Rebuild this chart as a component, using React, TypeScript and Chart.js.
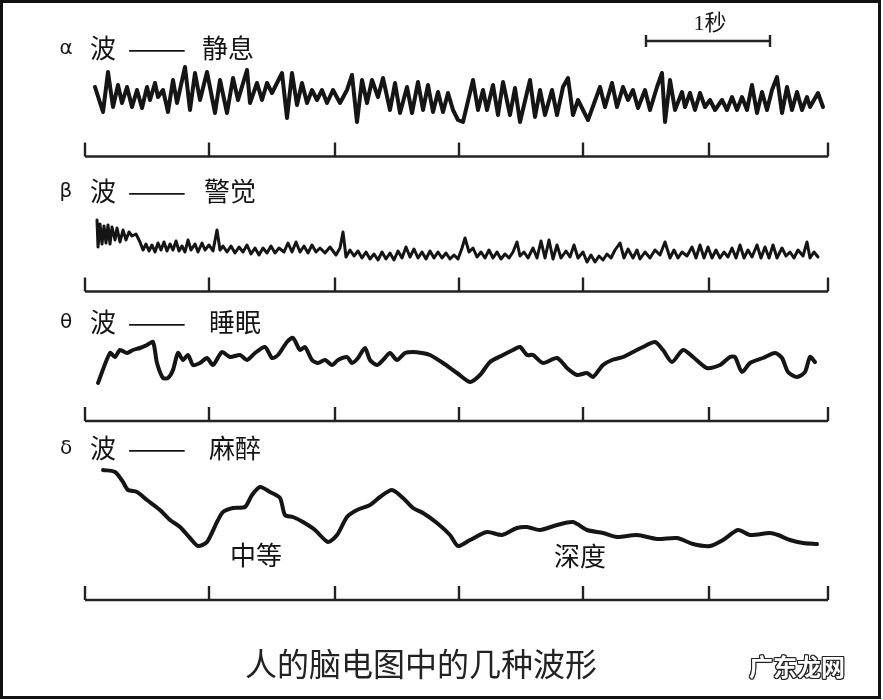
import React, { useEffect, useRef } from "react";
import { Chart, registerables } from "chart.js";

Chart.register(...registerables);

// ---------- data (x = sample index at 124 samples / second, y = amplitude) ----------
const SAMPLES_PER_SECOND = 124;
const tickSamples = [0, 124, 250, 374, 498, 624, 743];
const scaleBarSamples = [561, 685];

const alphaWave: number[][] = [
  [10, 8], [18, -17], [23, 23], [28, -12], [33, 10], [37, -8], [42, 8], [47, -12], [52, 5], [57, -13],
  [62, 8], [65, -5], [70, 12], [73, -2], [78, 5], [83, -17], [88, 15], [92, -8], [100, 28], [105, -15],
  [110, 22], [115, -5], [122, 23], [130, -18], [135, 15], [142, -18], [148, 17], [153, -5], [162, 25], [165, -8],
  [172, 12], [177, -5], [182, 12], [187, 2], [197, 22], [202, -23], [207, 22], [212, -10], [217, 12], [222, -8],
  [227, 5], [232, -5], [237, 5], [242, -8], [248, 5], [255, -8], [262, 5], [267, 20], [272, -27], [277, 15],
  [282, -8], [287, 15], [293, -2], [298, 17], [305, -15], [310, 12], [315, -18], [322, 8], [327, -18], [333, 13],
  [338, -15], [343, 10], [348, -17], [353, 3], [358, -17], [363, 2], [368, -15], [373, -25], [378, -27], [388, 15],
  [393, -15], [398, 5], [402, -15], [408, 10], [413, -20], [418, 13], [425, -20], [430, 7], [435, -27], [445, 15],
  [450, -22], [455, 5], [460, -20], [467, 5], [472, -20], [478, 8], [483, 17], [488, -20], [493, -5], [503, -25],
  [515, 8], [520, -12], [527, 12], [532, -12], [538, 8], [543, -5], [548, 5], [553, -13], [560, 5], [565, -15],
  [572, 8], [577, 22], [580, -27], [585, 15], [590, -15], [597, 3], [600, -12], [605, 2], [610, -15], [615, 2],
  [620, -12], [625, -5], [630, -15], [637, -5], [642, -15], [647, -2], [652, -15], [657, -2], [662, -15], [667, 10],
  [672, -18], [677, 3], [682, -15], [687, 5], [692, 18], [697, -18], [702, 8], [707, -15], [712, 3], [717, -15],
  [722, -2], [725, -12], [733, 2], [738, -12],
];

const betaWave: number[][] = [
  [12, 30], [13, 3], [15, 26], [17, 6], [19, 24], [21, 7], [23, 25], [25, 6], [27, 23], [30, 10],
  [32, 22], [35, 8], [38, 20], [41, 10], [44, 18], [47, 14], [51, 16], [55, 8], [58, 0], [61, 6],
  [64, -1], [67, 5], [70, -2], [73, 7], [76, 0], [79, 8], [82, -1], [85, 6], [88, 0], [91, 9],
  [94, -1], [97, 4], [100, -2], [103, 10], [106, 0], [110, 6], [113, -2], [117, 7], [120, 0], [124, 5],
  [128, -1], [132, 20], [135, 0], [138, 4], [142, -2], [146, 4], [150, -3], [154, 3], [158, -2], [162, 5],
  [166, -4], [170, 2], [174, -5], [178, 2], [182, -3], [186, 4], [190, -3], [194, 2], [199, -2], [203, 7],
  [207, -2], [211, 8], [215, -2], [219, 4], [223, -3], [227, 5], [231, -2], [235, 2], [240, -3], [245, 3],
  [251, -5], [255, 2], [258, 18], [261, -7], [265, 0], [269, -6], [273, -1], [277, -8], [281, -2], [285, -9],
  [289, -4], [293, -10], [297, -2], [301, -9], [305, -3], [309, -10], [313, -1], [317, -8], [321, 3], [325, -7],
  [329, 1], [333, -8], [337, -2], [341, -9], [345, -1], [349, -8], [353, -2], [357, -8], [361, -3], [365, -9],
  [369, -5], [373, -9], [377, 2], [380, 12], [384, -2], [388, 2], [392, -7], [396, -2], [400, -8], [404, 0],
  [408, -8], [412, -2], [416, -9], [420, -4], [424, -8], [428, -2], [432, 8], [435, -6], [439, -2], [443, -8],
  [448, 2], [452, -8], [456, 9], [460, -8], [464, 10], [468, -9], [472, 5], [476, -8], [481, -1], [485, -7],
  [489, 5], [493, -8], [498, -2], [502, -12], [506, -5], [510, -12], [514, -6], [518, -10], [522, -4], [526, -8],
  [530, 0], [535, 7], [539, -8], [543, 1], [548, -8], [552, 0], [555, -9], [560, -2], [565, -8], [570, 0],
  [575, -5], [580, 8], [585, -8], [589, 0], [593, -8], [597, -2], [602, -6], [607, 3], [611, -8], [615, 5],
  [619, -8], [623, 3], [627, -8], [631, 0], [635, -8], [639, -2], [643, -7], [647, 2], [651, -8], [655, 5],
  [659, -8], [663, 0], [667, -7], [672, 5], [676, -8], [680, 3], [684, -8], [688, 5], [692, -8], [697, 2],
  [701, -6], [705, -2], [709, -8], [713, 0], [718, -6], [722, 8], [725, -8], [729, -2], [733, -7],
];

const thetaWave: number[][] = [
  [13, -23], [25, 7], [30, 3], [35, 10], [42, 7], [48, 10], [55, 12], [62, 15], [68, 18], [72, -3],
  [78, -18], [83, -18], [88, -10], [93, 7], [98, 0], [103, 5], [108, -5], [115, -3], [122, 2], [128, -5],
  [137, 8], [145, 3], [155, 5], [162, 0], [170, 7], [180, 13], [187, 2], [193, 5], [202, 18], [208, 22],
  [215, 10], [220, 13], [227, 0], [233, -3], [240, 0], [247, -5], [253, 0], [262, 3], [267, -3], [273, 2],
  [280, 12], [285, 0], [292, -5], [298, 0], [305, 7], [312, 0], [320, 7], [328, 8], [337, 7], [345, 5],
  [358, -3], [372, -13], [385, -22], [395, -15], [405, -2], [418, 5], [428, 10], [435, 13], [442, 5], [448, 5],
  [458, -3], [472, 2], [482, -8], [492, -15], [502, -13], [508, -17], [518, -5], [527, 0], [538, 3], [548, 8],
  [558, 13], [570, 18], [578, 10], [587, -2], [598, 10], [608, 3], [622, -8], [635, -5], [645, 3], [650, 3],
  [657, -12], [665, -3], [678, 2], [690, 7], [697, 2], [703, -12], [712, -17], [720, -12], [725, 3], [730, -2],
];

const deltaWave: number[][] = [
  [18, 40], [30, 38], [38, 28], [43, 20], [52, 18], [62, 10], [75, 0], [85, -10], [95, -17], [105, -28],
  [113, -36], [122, -32], [132, -12], [138, -2], [148, 2], [160, 3], [167, 15], [175, 23], [185, 18], [195, 12],
  [200, -5], [208, -7], [218, -12], [230, -20], [243, -32], [252, -25], [262, -7], [272, 0], [285, 5], [295, 13],
  [307, 20], [318, 12], [328, 2], [338, -3], [352, -13], [365, -25], [373, -36], [385, -30], [402, -22], [417, -25],
  [432, -18], [442, -17], [455, -20], [472, -15], [488, -12], [502, -20], [518, -23], [532, -27], [552, -25], [572, -29],
  [592, -28], [608, -34], [625, -36], [638, -30], [653, -20], [665, -25], [685, -23], [693, -25], [705, -30], [718, -33],
  [732, -34],
];

const waveLabels = [
  { greek: "α", name: "静息" },
  { greek: "β", name: "警觉" },
  { greek: "θ", name: "睡眠" },
  { greek: "δ", name: "麻醉" },
];
const depthLabels = ["中等", "深度"];
const scaleBarLabel = "1秒";
const titleText = "人的脑电图中的几种波形";
const watermarkText = "广东龙网";

// ---------- layout / style ----------
const W = 883;
const H = 700;
const X_MIN = -85;
const X_MAX = 798;
const BASE = { alpha: 605, beta: 450, theta: 340, delta: 190 };
const AXIS_ROWS = [543.5, 408.5, 279, 100];
const TICK_H = 14;
const BAR_Y = 659;
const BAR_END = 6;
const INK = "#151515";

const CJK = "'Noto Sans CJK SC', 'Noto Sans', sans-serif";

function toPts(arr: number[][], base: number) {
  return arr.map(([s, a]) => ({ x: s, y: base + a }));
}

function Txt(props: { x: number; y: number; size: number; text: string; font?: string; style?: React.CSSProperties }) {
  return (
    <div
      style={{
        position: "absolute",
        left: props.x,
        top: props.y,
        transform: "translate(-50%, -50%)",
        fontSize: props.size,
        lineHeight: 1,
        whiteSpace: "nowrap",
        fontFamily: props.font || CJK,
        color: INK,
        ...props.style,
      }}
    >
      {props.text}
    </div>
  );
}

export default function App() {
  const ref = useRef<HTMLCanvasElement | null>(null);

  useEffect(() => {
    document.body.style.margin = "0";
    const canvas = ref.current;
    if (!canvas) return;

    const waveDs = (data: any[], width: number, tension: number) => ({
      data,
      borderColor: INK,
      borderWidth: width,
      pointRadius: 0,
      fill: false,
      tension,
      borderJoinStyle: "round" as const,
      borderCapStyle: "round" as const,
    });

    const lineDs = (data: any[], width: number) => ({
      data,
      borderColor: "#222",
      borderWidth: width,
      pointRadius: 0,
      fill: false,
      tension: 0,
      spanGaps: false,
      borderJoinStyle: "miter" as const,
      borderCapStyle: "butt" as const,
    });

    const datasets: any[] = [
      waveDs(toPts(alphaWave, BASE.alpha), 4, 0),
      waveDs(toPts(betaWave, BASE.beta), 3, 0),
      waveDs(toPts(thetaWave, BASE.theta), 4, 0.25),
      waveDs(toPts(deltaWave, BASE.delta), 4, 0.25),
    ];

    AXIS_ROWS.forEach((yRow) => {
      datasets.push(
        lineDs(
          [
            { x: tickSamples[0], y: yRow },
            { x: tickSamples[tickSamples.length - 1], y: yRow },
          ],
          2.6
        )
      );
      const ticks: any[] = [];
      tickSamples.forEach((t) => {
        ticks.push({ x: t, y: yRow }, { x: t, y: yRow + TICK_H }, { x: t, y: null });
      });
      datasets.push(lineDs(ticks, 2.4));
    });

    // 1-second scale bar
    datasets.push(
      lineDs(
        [
          { x: scaleBarSamples[0], y: BAR_Y },
          { x: scaleBarSamples[1], y: BAR_Y },
        ],
        2.4
      )
    );
    datasets.push(
      lineDs(
        [
          { x: scaleBarSamples[0], y: BAR_Y - BAR_END },
          { x: scaleBarSamples[0], y: BAR_Y + BAR_END },
          { x: scaleBarSamples[0], y: null },
          { x: scaleBarSamples[1], y: BAR_Y - BAR_END },
          { x: scaleBarSamples[1], y: BAR_Y + BAR_END },
        ],
        2.4
      )
    );

    const chart = new Chart(canvas, {
      type: "line",
      data: { datasets },
      options: {
        responsive: false,
        animation: false,
        events: [],
        layout: { padding: 0 },
        plugins: { legend: { display: false }, tooltip: { enabled: false }, title: { display: false } },
        scales: {
          x: { type: "linear", min: X_MIN, max: X_MAX, display: false },
          y: { type: "linear", min: 0, max: H, display: false },
        },
      },
    });
    return () => chart.destroy();
  }, []);

  const labelRows = [47, 190, 321, 447];
  const nameX = [228, 230, 235, 235];

  return (
    <div style={{ position: "relative", width: W, height: H, background: "#fff", overflow: "hidden" }}>
      <canvas ref={ref} width={W} height={H} style={{ position: "absolute", left: 0, top: 0, width: W, height: H }} />
      {waveLabels.map((l, i) => (
        <React.Fragment key={l.greek}>
          <Txt x={66} y={labelRows[i]} size={20} text={l.greek} font="'DejaVu Sans', sans-serif" />
          <Txt x={103} y={labelRows[i]} size={26} text="波" />
          <Txt
            x={157}
            y={labelRows[i]}
            size={26}
            text="——"
            style={{ transform: "translate(-50%, -50%) scaleX(1.35)" }}
          />
          <Txt x={nameX[i]} y={labelRows[i]} size={26} text={l.name} />
        </React.Fragment>
      ))}
      <Txt x={256} y={554} size={26} text={depthLabels[0]} />
      <Txt x={580} y={555} size={26} text={depthLabels[1]} />
      <div
        style={{
          position: "absolute",
          left: 710,
          top: 23,
          transform: "translate(-50%, -50%)",
          fontSize: 22,
          lineHeight: 1,
          whiteSpace: "nowrap",
          color: INK,
          fontFamily: "'Liberation Serif', " + CJK,
        }}
      >
        {scaleBarLabel}
      </div>
      <Txt x={421} y={662} size={32} text={titleText} style={{ color: "#222" }} />
      <Txt
        x={797}
        y={666}
        size={24}
        text={watermarkText}
        style={{
          color: "#fff",
          fontWeight: 700,
          textShadow: "1px 0 0 #222, -1px 0 0 #222, 0 1px 0 #222, 0 -1px 0 #222, 1px 1px 0 #222, -1px -1px 0 #222, 1px -1px 0 #222, -1px 1px 0 #222",
        }}
      />
      <div
        style={{
          position: "absolute",
          left: 0,
          top: 0,
          width: 881,
          height: 699,
          boxSizing: "border-box",
          border: "3px solid #111",
          pointerEvents: "none",
        }}
      />
    </div>
  );
}
